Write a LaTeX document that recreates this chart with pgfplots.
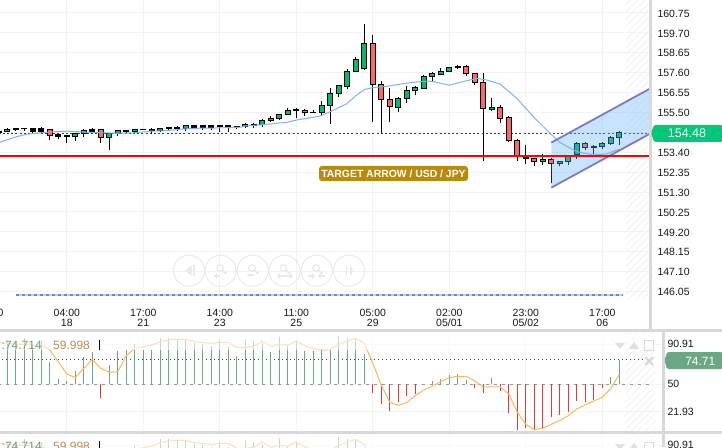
\documentclass[border=0pt]{standalone}
\usepackage{pgfplots}
\usepackage{pgfplotstable}
\usepackage{fontspec}
\setmainfont{Liberation Sans}
\pgfplotsset{compat=1.18}
\usetikzlibrary{patterns.meta}
\definecolor{cgrid}{HTML}{F2F2F2}
\definecolor{csep}{HTML}{D8D8D8}
\definecolor{cup}{HTML}{00B86E}
\definecolor{cdn}{HTML}{FA6A60}
\definecolor{cma}{HTML}{7FB2F5}
\definecolor{cbadge}{HTML}{00C878}
\definecolor{chg}{HTML}{6AA883}
\definecolor{chr}{HTML}{E53838}
\definecolor{corange}{HTML}{FDB55E}
\definecolor{cgold}{HTML}{B98A0E}
\definecolor{cbtn}{HTML}{E9E9E9}
\definecolor{chat}{HTML}{F3F3F3}
\newcommand{\tfont}{\fontsize{10.5}{10}\selectfont}
\newcommand{\candle}[6]{%
  \pgfmathsetmacro\xa{#2-0.295}\pgfmathsetmacro\xb{#2+0.295}%
  \addplot[forget plot, black, line width=1pt] coordinates {(#2,#3)(#2,#6)};%
  \addplot[forget plot, draw=black, fill=#1, line width=1pt] coordinates {(\xa,#4)(\xb,#4)(\xb,#5)(\xa,#5)} --cycle;}
\newcommand{\cU}{\candle{cup}}
\newcommand{\cD}{\candle{cdn}}
\newcommand{\cB}{\candle{black}}
% histogram above / below 50, signal line
\pgfplotstableread{
i v
0 93.6
1 93.6
2 96.7
3 89.6
4 93.6
5 72.3
6 55
7 53.4
8 63.5
9 78
10 82.5
12 69.6
13 84.2
14 84.8
15 90.6
16 84.8
17 84.8
18 96.7
19 96.7
20 96
21 95
22 91.6
23 90.6
24 89.3
25 95
26 89.3
27 78.7
28 96
29 94
30 91.6
31 83.2
32 97.7
33 89.9
34 93.3
35 83.8
36 83.8
37 85.8
38 84.8
39 99
40 96.7
41 96
42 80.5
49 50.7
50 53.4
51 55.4
52 59.5
53 60.5
54 54.4
57 56.1
71 57.8
72 74.714
}\histup
\pgfplotstableread{
i v
11 35.8
43 40.9
44 29.7
45 23.3
46 31.7
47 38.5
48 40.5
55 45.9
56 40.9
58 43.6
59 20.6
60 3.3
61 5.3
62 4.3
63 6
64 16.8
65 18.8
66 21.6
67 33
68 31.7
69 33.8
70 45.9
}\histdn
\pgfplotstableread{
i v
-1 92.6
0 91.6
1 90.6
2 90.6
3 89.9
4 89.9
5 84.8
6 73
7 60.2
8 57.1
9 66.2
10 75.4
11 66.2
12 62.2
13 62.9
14 79.1
15 86.5
16 88.2
17 89.9
18 93.3
19 95
20 95.7
21 95.7
22 93.3
23 92.3
24 91.6
25 92.6
26 92.6
27 87.6
28 87.6
29 88.6
30 94
31 88.6
32 90.9
33 89.6
34 94
35 88.9
36 86.5
37 84.5
38 85.5
39 90.6
40 94
41 96.7
42 91.6
43 71.3
44 49.3
45 31.7
46 28.7
47 31.4
48 38.5
49 44.2
50 48
51 52.7
52 56.8
53 58.1
54 58.1
55 53.4
56 47.3
57 47.3
58 47.3
59 40.2
60 21.6
61 9.4
62 4
63 5.3
64 9.4
65 13.1
66 18.2
67 25
68 29
69 33.1
70 36.8
71 45.9
72 59.998
}\signal
\pgfplotstableread{
i p
-0.86 153.93
-0.07 154.05
1.1 154.22
2.28 154.35
3.46 154.40
5.02 154.47
7 154.51
8.94 154.47
10.9 154.43
12.87 154.40
14.79 154.42
16.79 154.51
18.75 154.54
20.7 154.63
22.67 154.67
24.64 154.68
27.38 154.72
28.16 154.79
30.12 154.86
32.87 154.98
34.05 155.10
36.8 155.31
37.96 155.53
39.93 155.96
41.1 156.42
42.08 156.72
43.06 156.81
44.64 156.88
46.59 157.02
48.16 157.11
49.73 157.15
50.08 157.13
52 156.94
53.65 157.13
55.22 157.30
56.4 157.21
57.96 157.0
59.93 156.25
61.88 155.28
63.85 154.40
65.02 153.91
67 153.43
68.94 153.26
70.52 153.31
71.69 153.52
72.47 153.56
}\mavg
\newcommand{\indpanel}[1]{%
\begin{axis}[at={(-18.2pt,#1)}, anchor=south west, scale only axis, width=681.2pt, height=99pt,
  xmin=-3, xmax=77.14, ymin=2.6, ymax=103.1, axis line style={draw=none}, major tick length=0pt,
  xtick={-2,7,16,25,34,43,52,61,70}, xticklabels={},
  ytick={90.91,50,21.93}, yticklabels={90.91,50,21.93}, yticklabel pos=right,
  yticklabel style={font=\tfont, anchor=west, text=black!90, xshift=1pt},
  grid=major, grid style={cgrid, line width=1pt}, clip=true]
\addplot[forget plot, draw=none, pattern={Lines[angle=45,distance=5pt,line width=1pt]}, pattern color=chat] coordinates {(72.67,2.6)(72.67,103.1)(76.2,103.1)(76.2,2.6)} --cycle;
\addplot[forget plot, gray!80, line width=1pt, dash pattern=on 3pt off 5pt] coordinates {(-3,50)(75.85,50)};
\addplot[forget plot, dash pattern=on 1.5pt off 2.5pt, black!75, line width=1pt] coordinates {(-3,74.71)(75,74.71)};
\addplot[forget plot, draw=none, no markers, error bars/.cd, y dir=plus, y explicit, error mark=none, error bar style={line width=1pt, color=chg}] table[x=i, y expr=50, y error plus expr=\thisrow{v}-50]{\histup};
\addplot[forget plot, draw=none, no markers, error bars/.cd, y dir=minus, y explicit, error mark=none, error bar style={line width=1pt, color=chr}] table[x=i, y expr=50, y error minus expr=50-\thisrow{v}]{\histdn};
\addplot[forget plot, corange, line width=1pt] table[x=i, y=v]{\signal};
\end{axis}}
\newcommand{\mglass}[2]{\draw[cbtn, line width=1.2pt] (#1pt,#2pt) circle (3.2pt); \draw[cbtn, line width=2pt] (#1pt+2.5pt,#2pt-2.5pt) -- ++(4pt,-3pt);}
\newcommand{\paneldeco}[1]{% #1 = y (pt from bottom) of panel top
  \fill[white, opacity=.58] (0pt,#1pt) rectangle (655pt,#1pt-18pt);
  \node[anchor=base west, inner sep=0pt, text=chg!75!gray, font=\fontsize{12}{12}\selectfont] at (1.5pt,#1pt-17pt) {:74.714};
  \node[anchor=base west, inner sep=0pt, text=corange!70!black!90, font=\fontsize{12}{12}\selectfont] at (53pt,#1pt-17pt) {59.998};
  \draw[black, line width=1pt] (99.5pt,#1pt-8pt) -- (99.5pt,#1pt-18pt);
  \fill[csep!80] (615pt,#1pt-11pt) -- (625pt,#1pt-11pt) -- (620pt,#1pt-17pt) -- cycle;
  \fill[csep!80] (629pt,#1pt-17pt) -- (639pt,#1pt-17pt) -- (634pt,#1pt-10pt) -- cycle;
  \draw[csep, line width=1pt] (644.5pt,#1pt-9pt) rectangle (653.5pt,#1pt-18pt);
  \draw[csep, line width=2pt] (645pt,#1pt-25pt) -- (653pt,#1pt-33pt) (645pt,#1pt-33pt) -- (653pt,#1pt-25pt);
}
\begin{document}
\begin{tikzpicture}[x=1pt,y=1pt]
\path[use as bounding box, fill=white] (0pt,0pt) rectangle (722pt,447pt);
\begin{axis}[at={(-18.2pt,147pt)}, anchor=south west, scale only axis, width=668.2pt, height=300pt,
  xmin=-3, xmax=75.61, ymin=145.6, ymax=161.436, axis line style={draw=none}, major tick length=0pt,
  xtick={-2,7,16,25,34,43,52,61,70},
  xticklabels={{00:00\\\phantom{15}},{04:00\\18},{17:00\\21},{14:00\\23},{11:00\\25},{05:00\\29},{02:00\\05/01},{23:00\\05/02},{17:00\\06}},
  xticklabel style={font=\tfont, align=center, text=black!90, yshift=-5.5pt},
  ytick={160.75,159.70,158.65,157.60,156.55,155.50,154.45,153.40,152.35,151.30,150.25,149.20,148.15,147.10,146.05},
  yticklabels={160.75,159.70,158.65,157.60,156.55,155.50,{},153.40,152.35,151.30,150.25,149.20,148.15,147.10,146.05},
  yticklabel pos=right,
  yticklabel style={font=\tfont, anchor=west, text=black!90, xshift=4pt, yshift=-.6pt},
  grid=major, grid style={cgrid, line width=1pt}, clip=true]
\addplot[forget plot, draw=none, pattern={Lines[angle=45,distance=5pt,line width=1pt]}, pattern color=chat] coordinates {(72.8,145.6)(72.8,161.436)(75.61,161.436)(75.61,145.6)} --cycle;
% bottom marker line
\addplot[forget plot, color=cma!55, line width=2pt] coordinates {(1,145.87)(72.3,145.87)};
\addplot[forget plot, color=blue!25!cma, line width=2pt, dash pattern=on 3pt off 3pt] coordinates {(1,145.87)(72.3,145.87)};
\addplot[forget plot, dash pattern=on 2pt off 2.2pt, black!75, line width=1pt] coordinates {(-3,154.41)(75.61,154.41)};
\cB{-1}{154.37}{154.42}{154.50}{154.58}
\cU{0}{154.46}{154.51}{154.61}{154.68}
\cB{1}{154.54}{154.58}{154.66}{154.66}
\cB{2}{154.52}{154.63}{154.66}{154.66}
\cB{3}{154.40}{154.52}{154.63}{154.70}
\cB{4}{154.43}{154.52}{154.63}{154.72}
\cD{5}{154.05}{154.30}{154.61}{154.61}
\cB{6}{154.09}{154.23}{154.32}{154.32}
\cB{7}{153.91}{154.23}{154.27}{154.27}
\cU{8}{154.01}{154.23}{154.40}{154.40}
\cU{9}{154.23}{154.40}{154.54}{154.61}
\cB{10}{154.46}{154.52}{154.59}{154.67}
\cD{11}{153.87}{154.17}{154.61}{154.61}
\cU{12}{153.52}{154.17}{154.37}{154.37}
\cU{13}{154.26}{154.40}{154.54}{154.54}
\cB{14}{154.37}{154.52}{154.56}{154.56}
\cU{15}{154.40}{154.51}{154.61}{154.61}
\cB{16}{154.60}{154.60}{154.62}{154.62}
\cB{17}{154.37}{154.54}{154.61}{154.67}
\cU{18}{154.49}{154.54}{154.67}{154.67}
\cB{19}{154.54}{154.63}{154.72}{154.72}
\cB{20}{154.54}{154.65}{154.72}{154.79}
\cU{21}{154.54}{154.67}{154.79}{154.84}
\cB{22}{154.63}{154.72}{154.79}{154.82}
\cB{23}{154.58}{154.70}{154.79}{154.79}
\cB{24}{154.58}{154.72}{154.79}{154.84}
\cB{25}{154.49}{154.77}{154.80}{154.80}
\cB{26}{154.49}{154.75}{154.79}{154.79}
\cB{27}{154.64}{154.75}{154.77}{154.77}
\cU{28}{154.68}{154.75}{154.86}{154.93}
\cB{29}{154.68}{154.82}{154.88}{154.93}
\cU{30}{154.75}{154.86}{155.07}{155.14}
\cU{31}{155.00}{155.07}{155.17}{155.33}
\cU{32}{155.10}{155.17}{155.38}{155.38}
\cU{33}{155.37}{155.38}{155.60}{155.72}
\cB{34}{155.21}{155.60}{155.63}{155.72}
\cD{35}{155.31}{155.49}{155.62}{155.68}
\cB{36}{155.49}{155.49}{155.51}{155.63}
\cU{37}{155.37}{155.49}{155.88}{156.09}
\cU{38}{154.91}{155.88}{156.51}{156.78}
\cU{39}{156.33}{156.51}{156.90}{156.95}
\cU{40}{156.76}{156.86}{157.67}{157.78}
\cU{41}{157.67}{157.67}{158.31}{158.41}
\cU{42}{157.76}{157.81}{159.15}{160.15}
\cD{43}{155.01}{156.99}{159.15}{159.57}
\cD{44}{154.40}{156.20}{156.99}{157.15}
\cD{45}{155.01}{155.80}{156.20}{156.81}
\cU{46}{155.54}{155.77}{156.25}{156.33}
\cU{47}{156.02}{156.25}{156.67}{156.91}
\cU{48}{156.44}{156.65}{156.83}{156.91}
\cU{49}{156.78}{156.79}{157.41}{157.48}
\cU{50}{157.18}{157.39}{157.53}{157.64}
\cU{51}{157.46}{157.49}{157.67}{157.83}
\cU{52}{157.67}{157.67}{157.88}{157.88}
\cB{53}{157.78}{157.88}{157.95}{158.00}
\cD{54}{157.44}{157.55}{157.95}{158.00}
\cD{55}{156.97}{157.09}{157.55}{157.58}
\cD{56}{152.96}{155.72}{157.09}{157.57}
\cU{57}{155.58}{155.63}{155.77}{156.25}
\cD{58}{154.96}{155.17}{155.77}{155.88}
\cD{59}{153.96}{154.01}{155.25}{155.31}
\cD{60}{152.94}{153.17}{154.03}{154.09}
\cB{61}{152.80}{153.08}{153.15}{153.77}
\cD{62}{152.68}{152.90}{153.08}{153.11}
\cU{63}{152.71}{152.90}{153.03}{153.29}
\cD{64}{151.76}{152.80}{153.03}{153.11}
\cU{65}{152.68}{152.82}{152.92}{152.92}
\cU{66}{152.73}{152.90}{153.15}{153.20}
\cU{67}{153.06}{153.26}{153.87}{153.94}
\cD{68}{153.52}{153.64}{153.87}{153.93}
\cB{69}{153.31}{153.66}{153.72}{153.78}
\cU{70}{153.56}{153.70}{153.87}{153.93}
\cU{71}{153.78}{153.85}{154.19}{154.26}
\cU{72}{153.78}{154.19}{154.45}{154.52}
\addplot[forget plot, cma, line width=1pt] table[x=i, y=p]{\mavg};
% channel
\addplot[forget plot, draw=none, fill={rgb,255:red,100;green,180;blue,250}, fill opacity=.35] coordinates {(64,153.91)(75.7,156.78)(75.7,154.40)(64,151.53)} --cycle;
\addplot[forget plot, color={rgb,255:red,124;green,124;blue,190}, line width=1.8pt] coordinates {(64,153.91)(75.7,156.78)};
\addplot[forget plot, color={rgb,255:red,124;green,124;blue,190}, line width=1.8pt] coordinates {(64,151.53)(75.7,154.40)};
\addplot[forget plot, red, line width=2.2pt] coordinates {(-3,153.2)(75.61,153.2)};
\end{axis}
\indpanel{16pt}
\indpanel{-85pt}
\paneldeco{115}
\paneldeco{14}
% separators
\fill[csep] (648.5pt,116pt) rectangle (651.5pt,447pt);
\fill[csep] (661.5pt,0pt) rectangle (664.5pt,116pt);
\fill[csep] (0pt,115pt) rectangle (722pt,117.5pt);
\fill[csep] (0pt,13.5pt) rectangle (722pt,16pt);
% price badge
\fill[cbadge, rounded corners=1.5pt] (651pt,314pt) -- (654pt,322pt) -- (722.5pt,322pt) -- (722.5pt,305pt) -- (654pt,305pt) -- cycle;
\node[text=white, inner sep=0pt, font=\fontsize{12.5}{12}\selectfont] at (687pt,313.5pt) {154.48};
% indicator badge
\fill[chg, rounded corners=1.5pt] (664.5pt,86.5pt) -- (667pt,95pt) -- (722.5pt,95pt) -- (722.5pt,78pt) -- (667pt,78pt) -- cycle;
\node[text=white, inner sep=0pt, anchor=east, font=\fontsize{12}{12}\selectfont] at (715.5pt,86pt) {74.71};
% target label
\node[fill=cgold, rounded corners=3pt, text=white, inner sep=0pt, minimum width=149pt, minimum height=15pt, font=\bfseries\fontsize{10.4}{10}\selectfont] at (393.5pt,273.5pt) {TARGET ARROW / USD / JPY};
% zoom buttons
\foreach \cx in {189,220.5,252.7,284.5,316.7,349}{\draw[cbtn, line width=1pt] (\cx pt,176.3pt) circle (15.5pt);}
\fill[cbtn] (185pt,176.3pt) -- (191.5pt,181.5pt) -- (191.5pt,171pt) -- cycle;
\draw[cbtn, line width=1.4pt] (194pt,182pt) -- (194pt,170.5pt);
\fill[cbtn] (353pt,176.3pt) -- (350pt,181.5pt) -- (350pt,171pt) -- cycle;
\draw[cbtn, line width=1.4pt] (346.5pt,182pt) -- (346.5pt,170.5pt);
\mglass{220}{179}
\mglass{252}{179}
\mglass{283.5}{179}
\mglass{316}{179}
\draw[cbtn, line width=1.6pt] (213.5pt,171pt) -- (219.5pt,171pt) (216.5pt,168pt) -- (216.5pt,174pt);
\draw[cbtn, line width=1.6pt] (247.5pt,172pt) -- (254pt,172pt);
\draw[cbtn, line width=1.2pt, <->] (277pt,171pt) -- (293pt,171pt);
\draw[cbtn, line width=1.2pt, ->] (308pt,171pt) -- (315pt,171pt);
\draw[cbtn, line width=1.2pt, ->] (325pt,171pt) -- (318pt,171pt);
\end{tikzpicture}
\end{document}
